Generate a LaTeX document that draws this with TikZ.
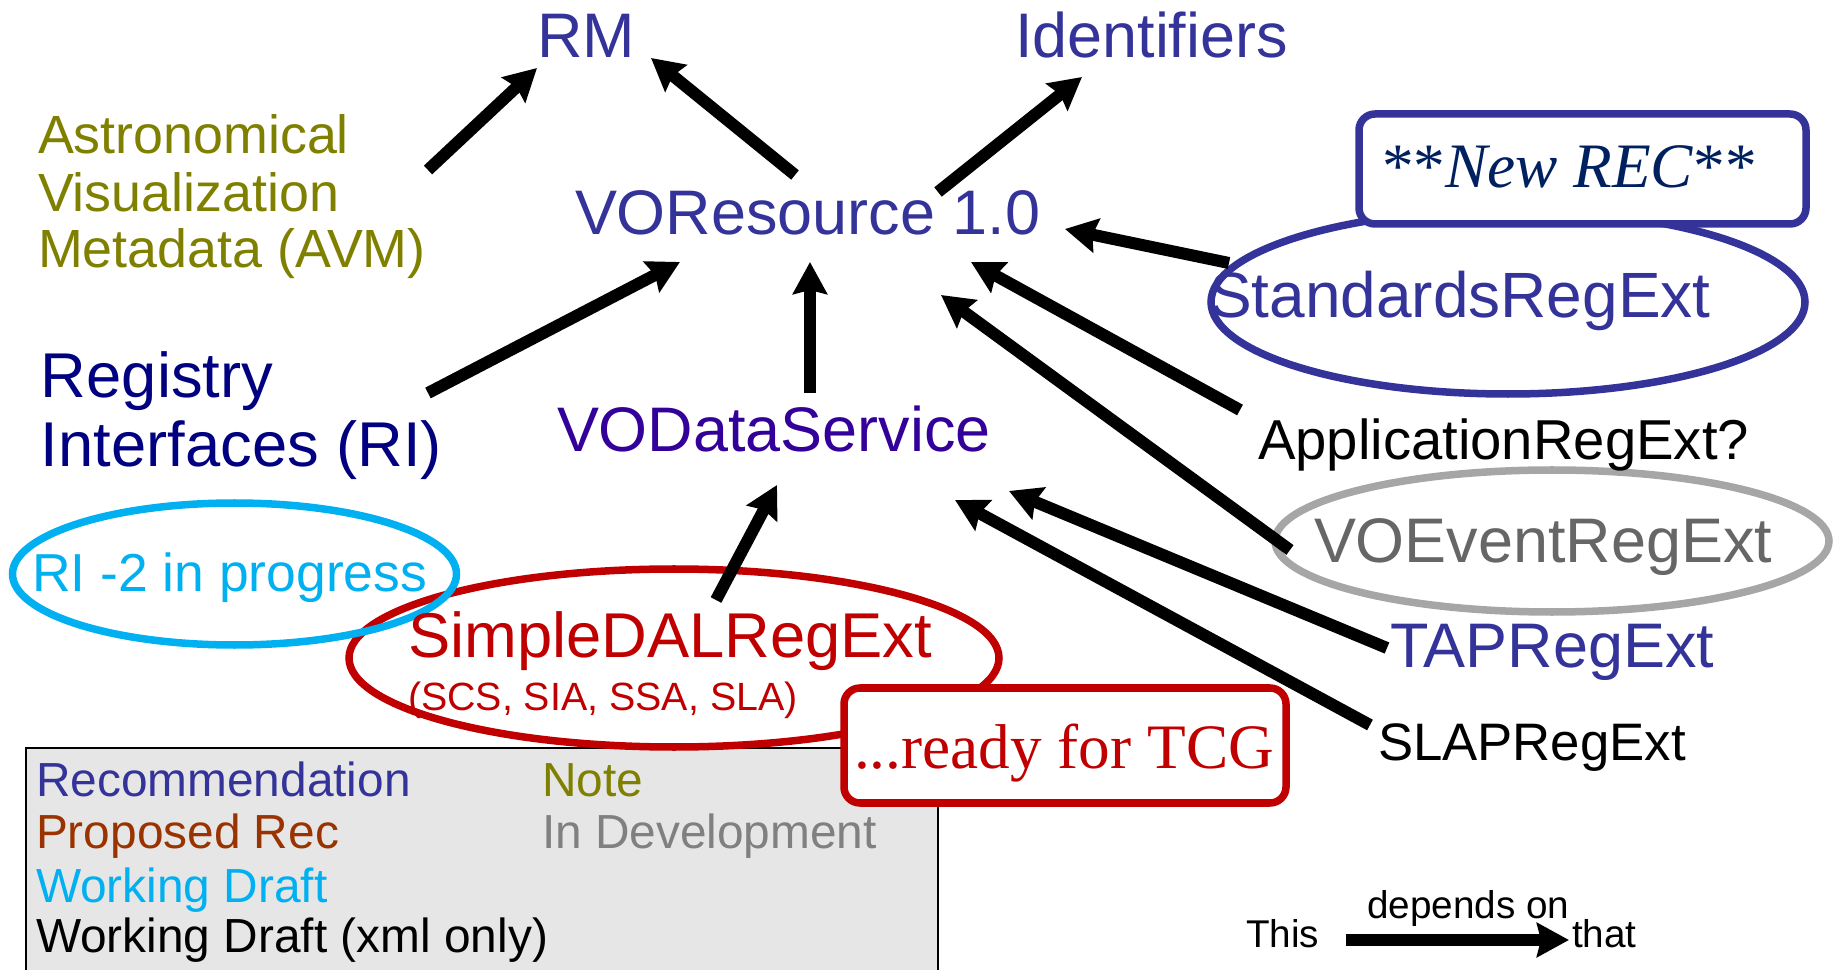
\documentclass[tikz,border=0pt]{standalone}
\usepackage{fontspec}
\setmainfont{Liberation Sans}
\newfontfamily\seriffont{Liberation Serif}
\usetikzlibrary{arrows.meta}
\definecolor{recblue}{HTML}{333399}
\definecolor{rinavy}{HTML}{000080}
\definecolor{dsblue}{HTML}{330099}
\definecolor{noteolive}{HTML}{808000}
\definecolor{wdcyan}{HTML}{00B0F0}
\definecolor{tcgred}{HTML}{C00000}
\definecolor{devgray}{HTML}{808080}
\definecolor{evtext}{HTML}{666666}
\definecolor{evring}{HTML}{A6A6A6}
\definecolor{prbrown}{HTML}{993300}
\definecolor{newrec}{HTML}{002060}
\definecolor{legfill}{HTML}{E6E6E6}
\tikzset{
  dep/.style={line width=0.12cm, -{Stealth[length=0.32cm,width=0.34cm,inset=0.04cm]}},
  lbl/.style={anchor=base west, inner sep=0pt, outer sep=0pt},
  fbig/.style={font=\fontsize{17.9pt}{20pt}\selectfont},
  fmid/.style={font=\fontsize{15.3pt}{18pt}\selectfont},
  fleg/.style={font=\fontsize{13.6pt}{15pt}\selectfont},
  fsmall/.style={font=\fontsize{11pt}{13pt}\selectfont},
  ring/.style={line width=0.075cm},
  callout/.style={line width=0.075cm, rounded corners=0.16cm, fill=white},
}
\begin{document}
\begin{tikzpicture}[x=0.01cm,y=-0.01cm]
\clip (0,0) rectangle (1835,970);
\fill[white] (0,0) rectangle (1835,970);

% legend box
\draw[line width=0.02cm, fill=legfill] (26,748) rectangle (938,990);

% ellipses and callouts
\draw[ring, draw=tcgred] (674,658) ellipse [x radius=325, y radius=89];
\draw[ring, draw=wdcyan] (234.5,574) ellipse [x radius=222, y radius=71];
\draw[callout, draw=tcgred] (844,688) rectangle (1286,803);
\draw[ring, draw=recblue] (1508,302) ellipse [x radius=297, y radius=92];
\draw[callout, draw=recblue] (1359,114) rectangle (1806,224);
\draw[ring, draw=evring] (1552,541) ellipse [x radius=277, y radius=71];

% main labels
\node[lbl, fbig, text=recblue] (rm) at (537,58) {RM};
\node[lbl, fbig, text=recblue] (ident) at (1015,58) {Identifiers};
\node[lbl, fmid, text=noteolive] (avm1) at (38,154) {Astronomical};
\node[lbl, fmid, text=noteolive] (avm2) at (38,212) {Visualization};
\node[lbl, fmid, text=noteolive] (avm3) at (38,268) {Metadata (AVM)};
\node[lbl, fbig, text=recblue] (vores) at (575,235) {VOResource 1.0};
\node[lbl, font=\fontsize{18pt}{20pt}\selectfont, text=rinavy] (ri1) at (41,398) {Registry};
\node[lbl, font=\fontsize{18pt}{20pt}\selectfont, text=rinavy] (ri2) at (41,467) {Interfaces (RI)};
\node[lbl, fbig, text=dsblue] (vods) at (557,452) {VODataService};
\node[lbl, font=\fontsize{18.2pt}{20pt}\selectfont, text=recblue] (stdreg) at (1209,318) {StandardsRegExt};
\node[lbl, font=\fontsize{16pt}{18pt}\selectfont] (appreg) at (1258,460) {ApplicationRegExt?};
\node[lbl, fbig, text=evtext] (evreg) at (1314,563) {VOEventRegExt};
\node[lbl, fbig, text=recblue] (tapreg) at (1390,667) {TAPRegExt};
\node[lbl, font=\fontsize{15pt}{18pt}\selectfont] (slapreg) at (1378,760) {SLAPRegExt};
\node[lbl, font=\fontsize{15.2pt}{17pt}\selectfont, text=wdcyan] (ri2note) at (32,592) {RI -2 in progress};
\node[lbl, font=\fontsize{18pt}{20pt}\selectfont, text=tcgred] (sdal) at (408,657) {SimpleDALRegExt};
\node[lbl, font=\fontsize{11.2pt}{13pt}\selectfont, text=tcgred] (sdalsub) at (408,710) {(SCS, SIA, SSA, SLA)};
\node[lbl, font=\seriffont\fontsize{18pt}{20pt}\selectfont, text=tcgred] (tcg) at (854,768) {...ready for TCG};
\node[lbl, font=\seriffont\fontsize{18pt}{20pt}\selectfont, text=newrec] (newrec) at (1382,188) {**\textit{New REC}**};

% legend
\node[lbl, fleg, text=recblue] (lrec) at (36,797) {Recommendation};
\node[lbl, fleg, text=prbrown] (lpr) at (36,848) {Proposed Rec};
\node[lbl, fleg, text=wdcyan] (lwd) at (36,902) {Working Draft};
\node[lbl, fleg] (lwdx) at (36,952) {Working Draft (xml only)};
\node[lbl, fleg, text=noteolive] (lnote) at (542,797) {Note};
\node[lbl, fleg, text=devgray] (ldev) at (542,848) {In Development};

\node[lbl, fsmall] (this) at (1246,947) {This};
\node[lbl, fsmall] (that) at (1572,947) {that};
\node[lbl, fsmall] (depon) at (1367,918) {depends on};
\coordinate (this-e) at (1346,940);
\coordinate (that-w) at (1569,940);
\draw[dep] (this-e) -- (that-w);

% arrow end points
\coordinate (avm-o) at (428,170);   \coordinate (rm-i1) at (537,68);
\coordinate (vores-o1) at (795,175); \coordinate (rm-i2) at (651,58);
\coordinate (vores-o2) at (938,192); \coordinate (ident-i) at (1082,77);
\coordinate (ri-o) at (428,393);    \coordinate (vores-i1) at (680,262);
\coordinate (vods-o) at (810,393);  \coordinate (vores-i2) at (810,262);
\coordinate (std-o) at (1229,263);  \coordinate (vores-i3) at (1065,229);
\coordinate (app-o) at (1240,410);  \coordinate (vores-i4) at (971,262);
\coordinate (ev-o) at (1290,550);   \coordinate (vores-i5) at (941,295);
\coordinate (sdal-o) at (716,600);  \coordinate (vods-i1) at (777,485);
\coordinate (tap-o) at (1387,648);  \coordinate (vods-i2) at (1009,491);
\coordinate (slap-o) at (1370,725); \coordinate (vods-i3) at (955,500);

\draw[dep] (avm-o) -- (rm-i1);
\draw[dep] (vores-o1) -- (rm-i2);
\draw[dep] (vores-o2) -- (ident-i);
\draw[dep] (ri-o) -- (vores-i1);
\draw[dep] (vods-o) -- (vores-i2);
\draw[dep] (std-o) -- (vores-i3);
\draw[dep] (app-o) -- (vores-i4);
\draw[dep] (ev-o) -- (vores-i5);
\draw[dep] (sdal-o) -- (vods-i1);
\draw[dep] (tap-o) -- (vods-i2);
\draw[dep] (slap-o) -- (vods-i3);
\end{tikzpicture}
\end{document}
